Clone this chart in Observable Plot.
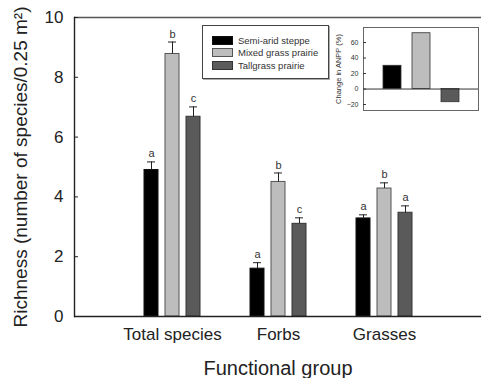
<!DOCTYPE html>
<html><head><meta charset="utf-8">
<script src="https://cdn.jsdelivr.net/npm/d3@7"></script>
<script src="https://cdn.jsdelivr.net/npm/@observablehq/plot@0.6"></script>
<style>
body{margin:0;background:#fff;font-family:"Liberation Sans",Arial,sans-serif;}
#wrap{position:relative;width:481px;height:378px;overflow:hidden;}
#wrap svg{display:block;}
#main{position:absolute;left:0;top:0;}
#inset{position:absolute;left:330px;top:25px;}
#legend{position:absolute;left:202px;top:25px;width:127px;height:54px;box-sizing:border-box;border:1px solid #444;box-shadow:1px 1px 0 #aaa;background:#fff;padding:8px 0 0 9px;}
.row{display:flex;align-items:center;height:12.5px;font-size:9.5px;color:#333;white-space:nowrap;}
.sw{width:21px;height:9px;box-sizing:border-box;border:1px solid #333;margin-right:5px;flex:none;}
</style></head><body><div id="wrap"><div id="main"></div><div id="legend"></div><div id="inset"></div></div>
<script>
const groups = ["Total species", "Forbs", "Grasses"];
const series = ["Semi-arid steppe", "Mixed grass prairie", "Tallgrass prairie"];
const steppe = [4.9, 1.6, 3.28];
const steppeErr = [0.27, 0.2, 0.12];
const mixed = [8.78, 4.5, 4.28];
const mixedErr = [0.4, 0.3, 0.19];
const tall = [6.68, 3.1, 3.47];
const tallErr = [0.33, 0.2, 0.23];
const steppeLetters = ["a", "a", "a"];
const mixedLetters = ["b", "b", "b"];
const tallLetters = ["c", "c", "a"];
const yTicks = [0, 2, 4, 6, 8, 10];
const insetValues = [30, 72, -17];
const insetTicks = [-20, 0, 20, 40, 60];
const fills = ["#000000", "#bdbdbd", "#5a5a5a"];
const barStrokes = ["#111111", "#555555", "#333333"];

const vals = [steppe, mixed, tall];
const errs = [steppeErr, mixedErr, tallErr];
const lets = [steppeLetters, mixedLetters, tallLetters];
const rows = series.flatMap((s, si) => groups.map((g, gi) => ({
  group: g, series: s, si, value: vals[si][gi], err: errs[si][gi], letter: lets[si][gi]
})));
const barStep = 21; // horizontal offset between bars within a group (px)

const seriesMarks = series.flatMap((s, si) => {
  const data = rows.filter(d => d.si === si);
  const dx = (si - 1) * barStep;
  return [
    Plot.barY(data, {x: "group", y: "value", fill: "series", stroke: barStrokes[si], strokeWidth: 1, dx}),
    Plot.ruleX(data, {x: "group", y1: "value", y2: d => d.value + d.err, stroke: "#222", dx}),
    Plot.tickY(data, {x: "group", y: d => d.value + d.err, stroke: "#222", insetLeft: 3, insetRight: 3, dx}),
    Plot.text(data, {x: "group", y: d => d.value + d.err, text: "letter", dx, dy: -8, fontSize: 11, fill: "#333"})
  ];
});

const main = Plot.plot({
  width: 481, height: 378,
  marginLeft: 74, marginRight: 0, marginTop: 17, marginBottom: 62,
  style: {fontFamily: "Liberation Sans, Arial, sans-serif", color: "#222", background: "#fff"},
  x: {domain: groups, paddingInner: 0.869, paddingOuter: 0.8365, axis: null},
  y: {domain: [0, 10], axis: null},
  color: {domain: series, range: fills},
  marks: [
    ...seriesMarks,
    Plot.ruleY([0], {stroke: "#222", strokeWidth: 1.4}),
    Plot.ruleY([10], {stroke: "#555", strokeWidth: 1.4}),
    Plot.frame({anchor: "left", stroke: "#222", strokeWidth: 1.4}),
    Plot.axisY(yTicks, {tickSize: -4, tickPadding: 15, fontSize: 17, label: null}),
    Plot.axisY({ticks: [], label: "Richness (number of species/0.25 m²)", labelAnchor: "center", labelOffset: 61, labelArrow: "none", fontSize: 19}),
    Plot.axisX({tickSize: 0, tickPadding: 11, fontSize: 17, label: null}),
    Plot.axisX({ticks: [], label: "Functional group", labelAnchor: "center", labelOffset: 58, labelArrow: "none", fontSize: 20})
  ]
});
document.getElementById("main").appendChild(main);

const legend = document.getElementById("legend");
series.forEach((s, i) => {
  const r = document.createElement("div");
  r.className = "row";
  r.innerHTML = `<span class="sw" style="background:${fills[i]};border-color:${barStrokes[i]}"></span><span>${s}</span>`;
  legend.appendChild(r);
});

const insetRows = series.map((s, i) => ({series: s, value: insetValues[i]}));
const inset = Plot.plot({
  width: 151, height: 88,
  marginLeft: 33, marginRight: 3, marginTop: 2, marginBottom: 3,
  style: {fontFamily: "Liberation Sans, Arial, sans-serif", color: "#333", background: "transparent"},
  x: {domain: series, paddingInner: 0.39, paddingOuter: 0.644, axis: null},
  y: {domain: [-27.7, 79.4], axis: null},
  color: {domain: series, range: fills},
  marks: [
    Plot.barY(insetRows, {x: "series", y: "value", fill: "series", stroke: "#333", strokeWidth: 0.8}),
    Plot.ruleY([0], {stroke: "#333"}),
    Plot.frame({stroke: "#666"}),
    Plot.axisY(insetTicks, {tickSize: -3, tickPadding: 8, fontSize: 7, label: null}),
    Plot.axisY({ticks: [], label: "Change in ANPP (%)", labelAnchor: "center", labelOffset: 28, labelArrow: "none", fontSize: 7.5})
  ]
});
document.getElementById("inset").appendChild(inset);
</script></body></html>
